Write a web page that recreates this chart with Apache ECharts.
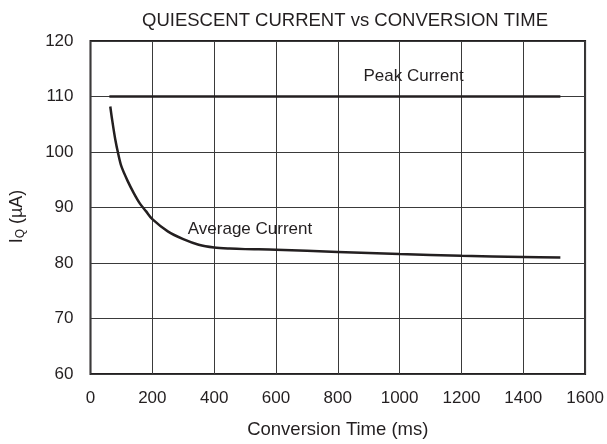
<!DOCTYPE html>
<html><head><meta charset="utf-8">
<script src="https://cdn.jsdelivr.net/npm/echarts@6/dist/echarts.min.js"></script>
<style>html,body{margin:0;padding:0;background:#fff}#c{width:607px;height:444px}</style>
</head><body><div id="c"></div>
<script>
var xTicks = [0, 200, 400, 600, 800, 1000, 1200, 1400, 1600];
var yTicks = [60, 70, 80, 90, 100, 110, 120];
var peakTime = [61, 1520];
var peakCurrent = [110, 110];
var avgTime = [64, 70, 80, 90, 100, 120, 140, 160, 180, 200, 250, 300, 350, 400, 450, 500, 600, 800, 1000, 1200, 1400, 1520];
var avgCurrent = [108.2, 105.8, 102.3, 99.6, 97.4, 94.8, 92.6, 90.7, 89.3, 87.9, 85.7, 84.3, 83.3, 82.8, 82.6, 82.5, 82.4, 82.0, 81.6, 81.3, 81.1, 81.0];
var labelNames = ['Peak Current', 'Average Current'];
var labelTime = [1045, 516];
var labelCurrent = [113.7, 86.0];

var FONT = '"Liberation Sans", Arial, sans-serif';
var INK = '#231f20';
var chart = echarts.init(document.getElementById('c'), null, {renderer: 'canvas'});
function pairs(xs, ys){ return xs.map(function(x,i){ return [x, ys[i]]; }); }
chart.setOption({
  animation: false,
  title: {
    text: 'QUIESCENT CURRENT vs CONVERSION TIME',
    left: 340, top: 6, textAlign: 'center',
    textStyle: {fontFamily: FONT, fontSize: 18.5, fontWeight: 'normal', color: INK}
  },
  grid: {left: 90, top: 41, right: 21, bottom: 68, show: true, borderColor: INK, borderWidth: 2, backgroundColor: 'transparent'},
  xAxis: {
    type: 'value', min: xTicks[0], max: xTicks[xTicks.length-1], interval: 200,
    name: 'Conversion Time (ms)', nameLocation: 'middle', nameGap: 46,
    nameTextStyle: {fontFamily: FONT, fontSize: 18.5, color: INK},
    axisLine: {show: false}, axisTick: {show: false},
    axisLabel: {fontFamily: FONT, fontSize: 17, color: INK, margin: 16, formatter: function(v){ return String(v); }},
    splitLine: {show: true, lineStyle: {color: '#3a3a3a', width: 1}}
  },
  yAxis: {
    type: 'value', min: yTicks[0], max: yTicks[yTicks.length-1], interval: 10,
    name: '{a|I}{s|Q}{a| (µA)}', nameLocation: 'middle', nameGap: 64, nameRotate: 90,
    nameTextStyle: {
      fontFamily: FONT, fontSize: 18, color: INK, padding: [0, 18, 0, 0],
      rich: {
        a: {fontFamily: FONT, fontSize: 18, color: INK},
        s: {fontFamily: FONT, fontSize: 12, color: INK, verticalAlign: 'bottom', padding: [7, 0, 0, 0]}
      }
    },
    axisLine: {show: false}, axisTick: {show: false},
    axisLabel: {fontFamily: FONT, fontSize: 17, color: INK, margin: 17},
    splitLine: {show: true, lineStyle: {color: '#3a3a3a', width: 1}}
  },
  series: [
    {
      type: 'line', data: pairs(peakTime, peakCurrent), showSymbol: false, symbol: 'none',
      lineStyle: {color: INK, width: 2.5}
    },
    {
      type: 'line', data: pairs(avgTime, avgCurrent), showSymbol: false, symbol: 'none',
      smooth: 0.3,
      lineStyle: {color: INK, width: 2.5}
    },
    {
      type: 'scatter', symbolSize: 0, silent: true,
      itemStyle: {opacity: 1},
      data: labelNames.map(function(n, i){ return {name: n, value: [labelTime[i], labelCurrent[i]]}; }),
      label: {show: true, position: 'inside', formatter: '{b}', fontFamily: FONT, fontSize: 17, color: INK, opacity: 1}
    }
  ]
});
</script></body></html>
